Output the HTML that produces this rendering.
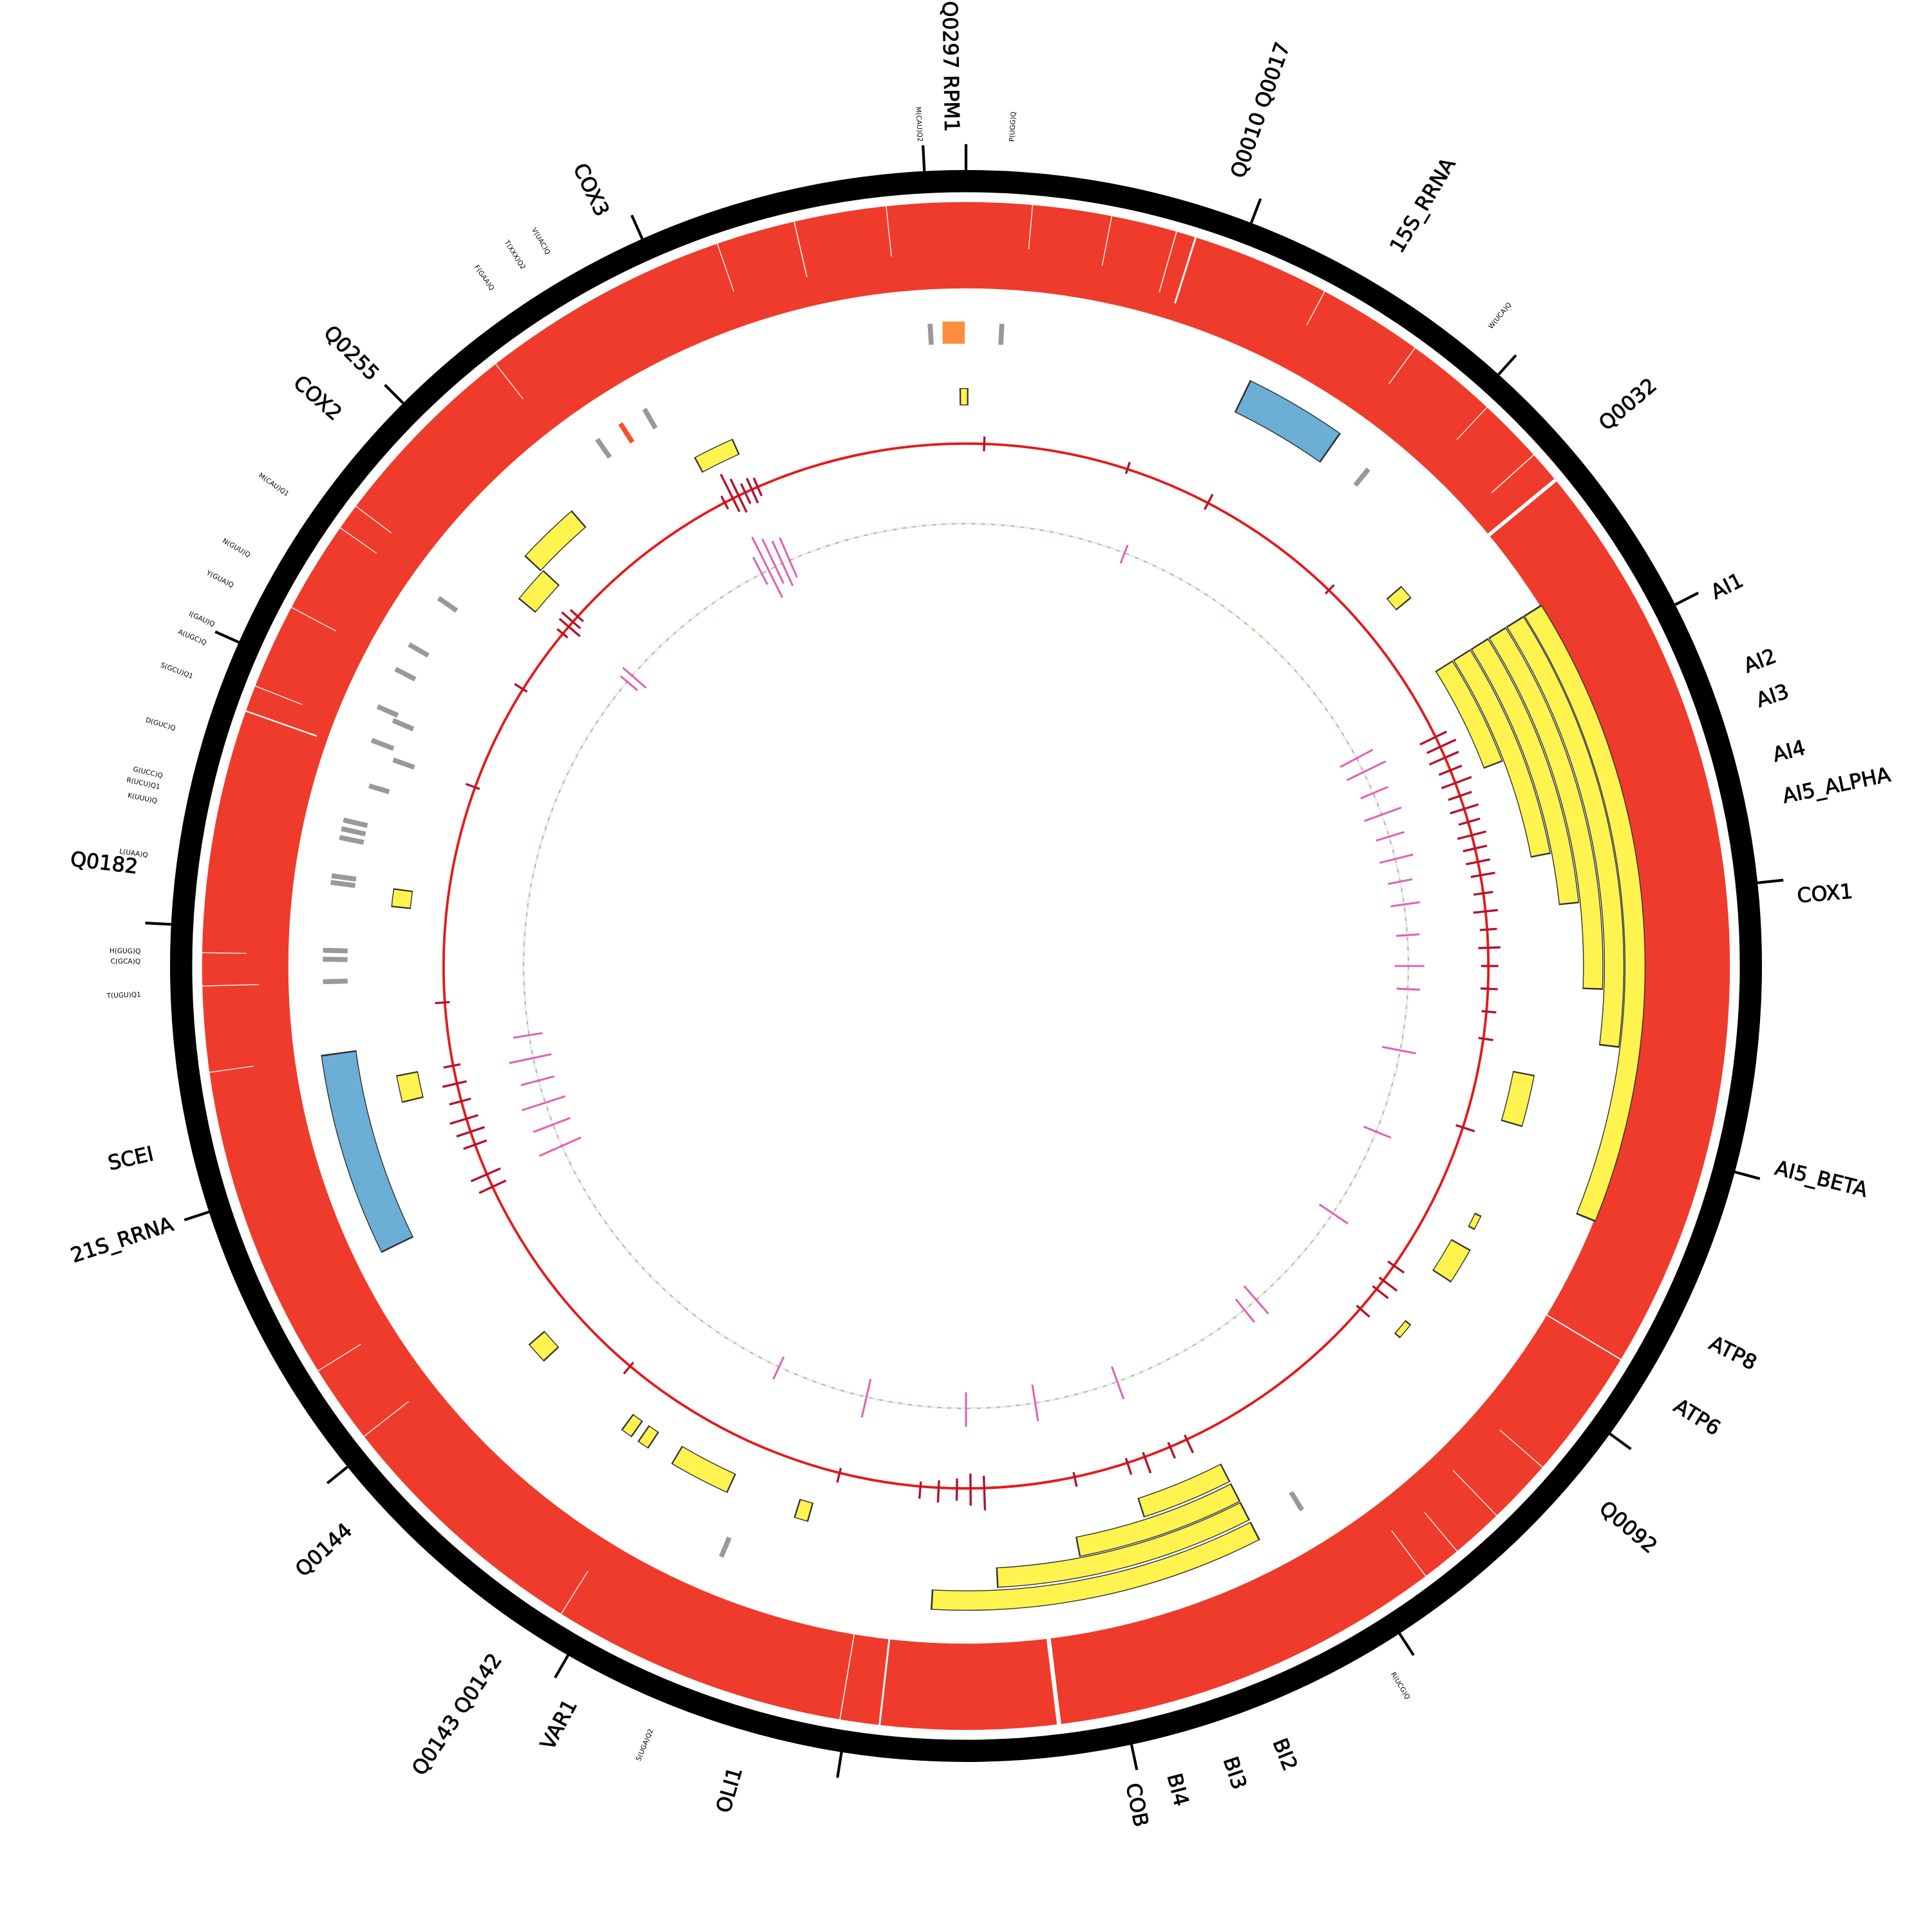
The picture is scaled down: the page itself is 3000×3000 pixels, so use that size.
<!DOCTYPE html>
<html><head><meta charset="utf-8"><style>
html,body{margin:0;padding:0;background:#fff;}
svg{display:block;}
text{font-family:"DejaVu Sans","Liberation Sans",sans-serif;fill:#000;}
.L{font-size:16.5px;dominant-baseline:central;stroke:#000;stroke-width:0.45;}
.s{font-size:5.5px;dominant-baseline:central;}
</style></head><body>
<svg xmlns="http://www.w3.org/2000/svg" width="3000" height="3000" viewBox="0 0 1568 1568">
<rect width="1568" height="1568" fill="#fff"/>
<circle cx="784" cy="784" r="637" fill="none" stroke="#000" stroke-width="18"/>
<g stroke="#000" stroke-width="2.2">
<line x1="784" y1="138" x2="784" y2="117" transform="rotate(0 784 784)"/>
<line x1="784" y1="138" x2="784" y2="117" transform="rotate(21 784 784)"/>
<line x1="784" y1="138" x2="784" y2="117" transform="rotate(42 784 784)"/>
<line x1="784" y1="138" x2="784" y2="117" transform="rotate(63 784 784)"/>
<line x1="784" y1="138" x2="784" y2="117" transform="rotate(84 784 784)"/>
<line x1="784" y1="138" x2="784" y2="117" transform="rotate(105 784 784)"/>
<line x1="784" y1="138" x2="784" y2="117" transform="rotate(126 784 784)"/>
<line x1="784" y1="138" x2="784" y2="117" transform="rotate(147 784 784)"/>
<line x1="784" y1="138" x2="784" y2="117" transform="rotate(168 784 784)"/>
<line x1="784" y1="138" x2="784" y2="117" transform="rotate(189 784 784)"/>
<line x1="784" y1="138" x2="784" y2="117" transform="rotate(210 784 784)"/>
<line x1="784" y1="138" x2="784" y2="117" transform="rotate(231 784 784)"/>
<line x1="784" y1="138" x2="784" y2="117" transform="rotate(252 784 784)"/>
<line x1="784" y1="138" x2="784" y2="117" transform="rotate(273 784 784)"/>
<line x1="784" y1="138" x2="784" y2="117" transform="rotate(294 784 784)"/>
<line x1="784" y1="138" x2="784" y2="117" transform="rotate(315 784 784)"/>
<line x1="784" y1="138" x2="784" y2="117" transform="rotate(336 784 784)"/>
<line x1="784" y1="138" x2="784" y2="117" transform="rotate(357 784 784)"/>
</g>
<circle cx="784" cy="784" r="585" fill="none" stroke="#ef3b2c" stroke-width="70"/>
<g stroke="#fff">
<line x1="784" y1="164" x2="784" y2="234" stroke-width="3.5" transform="rotate(173 784 784)"/>
<line x1="784" y1="164" x2="784" y2="234" stroke-width="1.5" transform="rotate(186.5 784 784)"/>
<line x1="784" y1="164" x2="784" y2="234" stroke-width="0.8" transform="rotate(189.5 784 784)"/>
<line x1="784" y1="164" x2="784" y2="234" stroke-width="3" transform="rotate(50.5 784 784)"/>
<line x1="784" y1="164" x2="784" y2="210" stroke-width="0.8" transform="rotate(48 784 784)"/>
<line x1="784" y1="164" x2="784" y2="215" stroke-width="0.8" transform="rotate(16 784 784)"/>
<line x1="784" y1="164" x2="784" y2="220" stroke-width="1.5" transform="rotate(17.5 784 784)"/>
<line x1="784" y1="164" x2="784" y2="205" stroke-width="0.7" transform="rotate(11 784 784)"/>
<line x1="784" y1="164" x2="784" y2="200" stroke-width="0.7" transform="rotate(5 784 784)"/>
<line x1="784" y1="164" x2="784" y2="205" stroke-width="0.7" transform="rotate(-6 784 784)"/>
<line x1="784" y1="164" x2="784" y2="210" stroke-width="0.8" transform="rotate(-13 784 784)"/>
<line x1="784" y1="164" x2="784" y2="195" stroke-width="0.7" transform="rotate(28 784 784)"/>
<line x1="784" y1="164" x2="784" y2="200" stroke-width="0.7" transform="rotate(36 784 784)"/>
<line x1="784" y1="164" x2="784" y2="200" stroke-width="0.7" transform="rotate(43 784 784)"/>
<line x1="784" y1="164" x2="784" y2="234" stroke-width="1" transform="rotate(121 784 784)"/>
<line x1="784" y1="164" x2="784" y2="210" stroke-width="0.7" transform="rotate(131 784 784)"/>
<line x1="784" y1="164" x2="784" y2="215" stroke-width="0.7" transform="rotate(136 784 784)"/>
<line x1="784" y1="164" x2="784" y2="205" stroke-width="0.7" transform="rotate(140 784 784)"/>
<line x1="784" y1="164" x2="784" y2="210" stroke-width="0.7" transform="rotate(143 784 784)"/>
<line x1="784" y1="164" x2="784" y2="205" stroke-width="0.7" transform="rotate(212 784 784)"/>
<line x1="784" y1="164" x2="784" y2="210" stroke-width="0.7" transform="rotate(232 784 784)"/>
<line x1="784" y1="164" x2="784" y2="205" stroke-width="0.7" transform="rotate(238 784 784)"/>
<line x1="784" y1="164" x2="784" y2="200" stroke-width="0.7" transform="rotate(262 784 784)"/>
<line x1="784" y1="164" x2="784" y2="210" stroke-width="0.7" transform="rotate(268.5 784 784)"/>
<line x1="784" y1="164" x2="784" y2="200" stroke-width="0.7" transform="rotate(271 784 784)"/>
<line x1="784" y1="164" x2="784" y2="225" stroke-width="1.2" transform="rotate(289.5 784 784)"/>
<line x1="784" y1="164" x2="784" y2="205" stroke-width="0.7" transform="rotate(291.5 784 784)"/>
<line x1="784" y1="164" x2="784" y2="205" stroke-width="0.7" transform="rotate(298 784 784)"/>
<line x1="784" y1="164" x2="784" y2="200" stroke-width="0.7" transform="rotate(305 784 784)"/>
<line x1="784" y1="164" x2="784" y2="200" stroke-width="0.7" transform="rotate(307 784 784)"/>
<line x1="784" y1="164" x2="784" y2="200" stroke-width="0.7" transform="rotate(322 784 784)"/>
<line x1="784" y1="164" x2="784" y2="205" stroke-width="0.7" transform="rotate(341 784 784)"/>
</g>
<g fill="none">
<circle cx="784" cy="784" r="543" pathLength="360" stroke="#333" stroke-width="17" stroke-dasharray="54.3 400" transform="rotate(-32.15 784 784)"/>
<circle cx="784" cy="784" r="543" pathLength="360" stroke="#fff350" stroke-width="15.5" stroke-dasharray="54 400" transform="rotate(-32 784 784)"/>
<circle cx="784" cy="784" r="526" pathLength="360" stroke="#333" stroke-width="16.5" stroke-dasharray="39.3 400" transform="rotate(-32.15 784 784)"/>
<circle cx="784" cy="784" r="526" pathLength="360" stroke="#fff350" stroke-width="15" stroke-dasharray="39 400" transform="rotate(-32 784 784)"/>
<circle cx="784" cy="784" r="509" pathLength="360" stroke="#333" stroke-width="16.5" stroke-dasharray="34.3 400" transform="rotate(-32.15 784 784)"/>
<circle cx="784" cy="784" r="509" pathLength="360" stroke="#fff350" stroke-width="15" stroke-dasharray="34 400" transform="rotate(-32 784 784)"/>
<circle cx="784" cy="784" r="492" pathLength="360" stroke="#333" stroke-width="16.5" stroke-dasharray="26.3 400" transform="rotate(-32.15 784 784)"/>
<circle cx="784" cy="784" r="492" pathLength="360" stroke="#fff350" stroke-width="15" stroke-dasharray="26 400" transform="rotate(-32 784 784)"/>
<circle cx="784" cy="784" r="475" pathLength="360" stroke="#333" stroke-width="16.5" stroke-dasharray="21.3 400" transform="rotate(-32.15 784 784)"/>
<circle cx="784" cy="784" r="475" pathLength="360" stroke="#fff350" stroke-width="15" stroke-dasharray="21 400" transform="rotate(-32 784 784)"/>
<circle cx="784" cy="784" r="458" pathLength="360" stroke="#333" stroke-width="16.5" stroke-dasharray="11.3 400" transform="rotate(-32.15 784 784)"/>
<circle cx="784" cy="784" r="458" pathLength="360" stroke="#fff350" stroke-width="15" stroke-dasharray="11 400" transform="rotate(-32 784 784)"/>
<circle cx="784" cy="784" r="515" pathLength="360" stroke="#333" stroke-width="16.5" stroke-dasharray="30.3 400" transform="rotate(62.85 784 784)"/>
<circle cx="784" cy="784" r="515" pathLength="360" stroke="#fff350" stroke-width="15" stroke-dasharray="30 400" transform="rotate(63 784 784)"/>
<circle cx="784" cy="784" r="497" pathLength="360" stroke="#333" stroke-width="16.5" stroke-dasharray="24.3 400" transform="rotate(62.85 784 784)"/>
<circle cx="784" cy="784" r="497" pathLength="360" stroke="#fff350" stroke-width="15" stroke-dasharray="24 400" transform="rotate(63 784 784)"/>
<circle cx="784" cy="784" r="480" pathLength="360" stroke="#333" stroke-width="16.5" stroke-dasharray="16.3 400" transform="rotate(62.85 784 784)"/>
<circle cx="784" cy="784" r="480" pathLength="360" stroke="#fff350" stroke-width="15" stroke-dasharray="16 400" transform="rotate(63 784 784)"/>
<circle cx="784" cy="784" r="462" pathLength="360" stroke="#333" stroke-width="16.5" stroke-dasharray="9.3 400" transform="rotate(62.85 784 784)"/>
<circle cx="784" cy="784" r="462" pathLength="360" stroke="#fff350" stroke-width="15" stroke-dasharray="9 400" transform="rotate(63 784 784)"/>
<circle cx="784" cy="784" r="514" pathLength="360" stroke="#333" stroke-width="29" stroke-dasharray="9.3 400" transform="rotate(-64.15 784 784)"/>
<circle cx="784" cy="784" r="514" pathLength="360" stroke="#6baed6" stroke-width="27.5" stroke-dasharray="9 400" transform="rotate(-64 784 784)"/>
<circle cx="784" cy="784" r="514" pathLength="360" stroke="#333" stroke-width="29" stroke-dasharray="18.3 400" transform="rotate(153.85 784 784)"/>
<circle cx="784" cy="784" r="514" pathLength="360" stroke="#6baed6" stroke-width="27.5" stroke-dasharray="18 400" transform="rotate(154 784 784)"/>
<g>
<circle cx="784" cy="784" r="461" pathLength="360" stroke="#333" stroke-width="18" stroke-dasharray="5.3 400" transform="rotate(10.85 784 784)"/>
<circle cx="784" cy="784" r="461" pathLength="360" stroke="#fff350" stroke-width="16.5" stroke-dasharray="5 400" transform="rotate(11 784 784)"/>
<circle cx="784" cy="784" r="462" pathLength="360" stroke="#333" stroke-width="6" stroke-dasharray="1.6 400" transform="rotate(25.85 784 784)"/>
<circle cx="784" cy="784" r="462" pathLength="360" stroke="#fff350" stroke-width="4.5" stroke-dasharray="1.3 400" transform="rotate(26 784 784)"/>
<circle cx="784" cy="784" r="461" pathLength="360" stroke="#333" stroke-width="18" stroke-dasharray="3.8 400" transform="rotate(29.35 784 784)"/>
<circle cx="784" cy="784" r="461" pathLength="360" stroke="#fff350" stroke-width="16.5" stroke-dasharray="3.5 400" transform="rotate(29.5 784 784)"/>
<circle cx="784" cy="784" r="461" pathLength="360" stroke="#333" stroke-width="6" stroke-dasharray="1.8 400" transform="rotate(38.85 784 784)"/>
<circle cx="784" cy="784" r="461" pathLength="360" stroke="#fff350" stroke-width="4.5" stroke-dasharray="1.5 400" transform="rotate(39 784 784)"/>
<circle cx="784" cy="784" r="461" pathLength="360" stroke="#333" stroke-width="16" stroke-dasharray="1.6 400" transform="rotate(-41.15 784 784)"/>
<circle cx="784" cy="784" r="461" pathLength="360" stroke="#fff350" stroke-width="14.5" stroke-dasharray="1.3 400" transform="rotate(-41 784 784)"/>
<circle cx="784" cy="784" r="461" pathLength="360" stroke="#333" stroke-width="16" stroke-dasharray="1.5 400" transform="rotate(105.85 784 784)"/>
<circle cx="784" cy="784" r="461" pathLength="360" stroke="#fff350" stroke-width="14.5" stroke-dasharray="1.2 400" transform="rotate(106 784 784)"/>
<circle cx="784" cy="784" r="461" pathLength="360" stroke="#333" stroke-width="17" stroke-dasharray="6.3 400" transform="rotate(114.35 784 784)"/>
<circle cx="784" cy="784" r="461" pathLength="360" stroke="#fff350" stroke-width="15.5" stroke-dasharray="6 400" transform="rotate(114.5 784 784)"/>
<circle cx="784" cy="784" r="461" pathLength="360" stroke="#333" stroke-width="16" stroke-dasharray="1.3 400" transform="rotate(123.35 784 784)"/>
<circle cx="784" cy="784" r="461" pathLength="360" stroke="#fff350" stroke-width="14.5" stroke-dasharray="1 400" transform="rotate(123.5 784 784)"/>
<circle cx="784" cy="784" r="461" pathLength="360" stroke="#333" stroke-width="16" stroke-dasharray="1.3 400" transform="rotate(125.35 784 784)"/>
<circle cx="784" cy="784" r="461" pathLength="360" stroke="#fff350" stroke-width="14.5" stroke-dasharray="1 400" transform="rotate(125.5 784 784)"/>
<circle cx="784" cy="784" r="461" pathLength="360" stroke="#333" stroke-width="17" stroke-dasharray="2.3 400" transform="rotate(136.85 784 784)"/>
<circle cx="784" cy="784" r="461" pathLength="360" stroke="#fff350" stroke-width="15.5" stroke-dasharray="2 400" transform="rotate(137 784 784)"/>
<circle cx="784" cy="784" r="462" pathLength="360" stroke="#333" stroke-width="18" stroke-dasharray="2.8 400" transform="rotate(166.35 784 784)"/>
<circle cx="784" cy="784" r="462" pathLength="360" stroke="#fff350" stroke-width="16.5" stroke-dasharray="2.5 400" transform="rotate(166.5 784 784)"/>
<circle cx="784" cy="784" r="461" pathLength="360" stroke="#333" stroke-width="16" stroke-dasharray="1.9 400" transform="rotate(185.85 784 784)"/>
<circle cx="784" cy="784" r="461" pathLength="360" stroke="#fff350" stroke-width="14.5" stroke-dasharray="1.6 400" transform="rotate(186 784 784)"/>
<circle cx="784" cy="784" r="480" pathLength="360" stroke="#333" stroke-width="18" stroke-dasharray="6.3 400" transform="rotate(222.85 784 784)"/>
<circle cx="784" cy="784" r="480" pathLength="360" stroke="#fff350" stroke-width="16.5" stroke-dasharray="6 400" transform="rotate(223 784 784)"/>
<circle cx="784" cy="784" r="461" pathLength="360" stroke="#333" stroke-width="18" stroke-dasharray="3.8 400" transform="rotate(219.35 784 784)"/>
<circle cx="784" cy="784" r="461" pathLength="360" stroke="#fff350" stroke-width="16.5" stroke-dasharray="3.5 400" transform="rotate(219.5 784 784)"/>
<circle cx="784" cy="784" r="461" pathLength="360" stroke="#333" stroke-width="14" stroke-dasharray="4.3 400" transform="rotate(241.85 784 784)"/>
<circle cx="784" cy="784" r="461" pathLength="360" stroke="#fff350" stroke-width="12.5" stroke-dasharray="4 400" transform="rotate(242 784 784)"/>
<circle cx="784" cy="784" r="462" pathLength="360" stroke="#333" stroke-width="14" stroke-dasharray="0.9 400" transform="rotate(269.35 784 784)"/>
<circle cx="784" cy="784" r="462" pathLength="360" stroke="#fff350" stroke-width="12.5" stroke-dasharray="0.6 400" transform="rotate(269.5 784 784)"/>
</g>
</g>
<rect x="765" y="261" width="18" height="18" fill="#fd8d3c"/>
<g stroke="#999" stroke-width="4">
<line x1="784" y1="262" x2="784" y2="279" transform="rotate(-3.2 784 784)"/>
<line x1="784" y1="262" x2="784" y2="279" transform="rotate(3.2 784 784)"/>
<line x1="784" y1="265" x2="784" y2="282" transform="rotate(39 784 784)"/>
<line x1="784" y1="265" x2="784" y2="282" transform="rotate(148.3 784 784)"/>
<line x1="784" y1="265" x2="784" y2="282" transform="rotate(202.5 784 784)"/>
<line x1="784" y1="262" x2="784" y2="282" transform="rotate(268.6 784 784)"/>
<line x1="784" y1="262" x2="784" y2="282" transform="rotate(270.6 784 784)"/>
<line x1="784" y1="262" x2="784" y2="282" transform="rotate(271.4 784 784)"/>
<line x1="784" y1="264" x2="784" y2="284" transform="rotate(277.5 784 784)"/>
<line x1="784" y1="264" x2="784" y2="284" transform="rotate(278.1 784 784)"/>
<line x1="784" y1="265" x2="784" y2="285" transform="rotate(281.6 784 784)"/>
<line x1="784" y1="265" x2="784" y2="285" transform="rotate(282.4 784 784)"/>
<line x1="784" y1="265" x2="784" y2="285" transform="rotate(283.2 784 784)"/>
<line x1="784" y1="278" x2="784" y2="295" transform="rotate(286.8 784 784)"/>
<line x1="784" y1="290" x2="784" y2="308" transform="rotate(289.8 784 784)"/>
<line x1="784" y1="268" x2="784" y2="287" transform="rotate(290.8 784 784)"/>
<line x1="784" y1="278" x2="784" y2="296" transform="rotate(293.2 784 784)"/>
<line x1="784" y1="262" x2="784" y2="280" transform="rotate(293.8 784 784)"/>
<line x1="784" y1="262" x2="784" y2="280" transform="rotate(297.5 784 784)"/>
<line x1="784" y1="262" x2="784" y2="280" transform="rotate(300 784 784)"/>
<line x1="784" y1="262" x2="784" y2="280" transform="rotate(304.9 784 784)"/>
<line x1="784" y1="262" x2="784" y2="280" transform="rotate(325 784 784)"/>
<line x1="784" y1="262" x2="784" y2="280" transform="rotate(330 784 784)"/>
</g>
<line x1="784" y1="262" x2="784" y2="280" stroke="#fc4e2a" stroke-width="4" transform="rotate(327.5 784 784)"/>
<circle cx="784" cy="784" r="424" fill="none" stroke="#e31a1c" stroke-width="2"/>
<g stroke="#b5142b" stroke-width="1.8">
<line x1="784" y1="338" x2="784" y2="372" transform="rotate(333.5 784 784)"/>
<line x1="784" y1="345" x2="784" y2="375" transform="rotate(334.2 784 784)"/>
<line x1="784" y1="352" x2="784" y2="370" transform="rotate(335 784 784)"/>
<line x1="784" y1="350" x2="784" y2="372" transform="rotate(335.8 784 784)"/>
<line x1="784" y1="352" x2="784" y2="368" transform="rotate(336.5 784 784)"/>
<line x1="784" y1="354" x2="784" y2="366" transform="rotate(332.5 784 784)"/>
<line x1="784" y1="350" x2="784" y2="372" transform="rotate(310.5 784 784)"/>
<line x1="784" y1="348" x2="784" y2="368" transform="rotate(311.2 784 784)"/>
<line x1="784" y1="352" x2="784" y2="366" transform="rotate(312 784 784)"/>
<line x1="784" y1="354" x2="784" y2="365" transform="rotate(309.5 784 784)"/>
<line x1="784" y1="352" x2="784" y2="366" transform="rotate(27.6 784 784)"/>
<line x1="784" y1="354" x2="784" y2="364" transform="rotate(18 784 784)"/>
<line x1="784" y1="354" x2="784" y2="366" transform="rotate(2 784 784)"/>
<line x1="784" y1="354" x2="784" y2="364" transform="rotate(44 784 784)"/>
<line x1="784" y1="350" x2="784" y2="374" transform="rotate(64 784 784)"/>
<line x1="784" y1="346" x2="784" y2="372" transform="rotate(65.2 784 784)"/>
<line x1="784" y1="348" x2="784" y2="374" transform="rotate(66.5 784 784)"/>
<line x1="784" y1="350" x2="784" y2="370" transform="rotate(68 784 784)"/>
<line x1="784" y1="346" x2="784" y2="372" transform="rotate(69.5 784 784)"/>
<line x1="784" y1="350" x2="784" y2="370" transform="rotate(71 784 784)"/>
<line x1="784" y1="348" x2="784" y2="372" transform="rotate(72.5 784 784)"/>
<line x1="784" y1="350" x2="784" y2="368" transform="rotate(74 784 784)"/>
<line x1="784" y1="348" x2="784" y2="372" transform="rotate(75.5 784 784)"/>
<line x1="784" y1="350" x2="784" y2="370" transform="rotate(77 784 784)"/>
<line x1="784" y1="350" x2="784" y2="370" transform="rotate(78.5 784 784)"/>
<line x1="784" y1="348" x2="784" y2="368" transform="rotate(80 784 784)"/>
<line x1="784" y1="352" x2="784" y2="368" transform="rotate(82 784 784)"/>
<line x1="784" y1="350" x2="784" y2="370" transform="rotate(84 784 784)"/>
<line x1="784" y1="352" x2="784" y2="366" transform="rotate(86 784 784)"/>
<line x1="784" y1="350" x2="784" y2="368" transform="rotate(88 784 784)"/>
<line x1="784" y1="352" x2="784" y2="366" transform="rotate(90 784 784)"/>
<line x1="784" y1="352" x2="784" y2="366" transform="rotate(92.5 784 784)"/>
<line x1="784" y1="352" x2="784" y2="364" transform="rotate(95 784 784)"/>
<line x1="784" y1="352" x2="784" y2="364" transform="rotate(98 784 784)"/>
<line x1="784" y1="350" x2="784" y2="366" transform="rotate(108 784 784)"/>
<line x1="784" y1="350" x2="784" y2="366" transform="rotate(125 784 784)"/>
<line x1="784" y1="346" x2="784" y2="364" transform="rotate(127 784 784)"/>
<line x1="784" y1="348" x2="784" y2="364" transform="rotate(128.2 784 784)"/>
<line x1="784" y1="350" x2="784" y2="364" transform="rotate(131 784 784)"/>
<line x1="784" y1="348" x2="784" y2="364" transform="rotate(155 784 784)"/>
<line x1="784" y1="350" x2="784" y2="364" transform="rotate(157 784 784)"/>
<line x1="784" y1="346" x2="784" y2="364" transform="rotate(160 784 784)"/>
<line x1="784" y1="350" x2="784" y2="364" transform="rotate(162 784 784)"/>
<line x1="784" y1="352" x2="784" y2="364" transform="rotate(168 784 784)"/>
<line x1="784" y1="342" x2="784" y2="370" transform="rotate(178 784 784)"/>
<line x1="784" y1="346" x2="784" y2="372" transform="rotate(179.5 784 784)"/>
<line x1="784" y1="350" x2="784" y2="368" transform="rotate(181 784 784)"/>
<line x1="784" y1="348" x2="784" y2="366" transform="rotate(183 784 784)"/>
<line x1="784" y1="350" x2="784" y2="364" transform="rotate(185 784 784)"/>
<line x1="784" y1="352" x2="784" y2="364" transform="rotate(194 784 784)"/>
<line x1="784" y1="352" x2="784" y2="364" transform="rotate(220 784 784)"/>
<line x1="784" y1="348" x2="784" y2="372" transform="rotate(245 784 784)"/>
<line x1="784" y1="346" x2="784" y2="372" transform="rotate(246.5 784 784)"/>
<line x1="784" y1="350" x2="784" y2="370" transform="rotate(250 784 784)"/>
<line x1="784" y1="348" x2="784" y2="372" transform="rotate(251.5 784 784)"/>
<line x1="784" y1="346" x2="784" y2="370" transform="rotate(253 784 784)"/>
<line x1="784" y1="350" x2="784" y2="368" transform="rotate(255 784 784)"/>
<line x1="784" y1="348" x2="784" y2="368" transform="rotate(257 784 784)"/>
<line x1="784" y1="352" x2="784" y2="366" transform="rotate(259 784 784)"/>
<line x1="784" y1="352" x2="784" y2="364" transform="rotate(266 784 784)"/>
<line x1="784" y1="352" x2="784" y2="364" transform="rotate(290 784 784)"/>
<line x1="784" y1="352" x2="784" y2="364" transform="rotate(302 784 784)"/>
</g>
<circle cx="784" cy="784" r="359" fill="none" stroke="#e5f5e0" stroke-width="2"/>
<circle cx="784" cy="784" r="359" fill="none" stroke="#de77ae" stroke-width="0.7" stroke-dasharray="3 5"/>
<g stroke="#de63b5" stroke-width="1.6">
<line x1="784" y1="395" x2="784" y2="450" transform="rotate(333.5 784 784)"/>
<line x1="784" y1="400" x2="784" y2="440" transform="rotate(334.5 784 784)"/>
<line x1="784" y1="405" x2="784" y2="445" transform="rotate(335.5 784 784)"/>
<line x1="784" y1="410" x2="784" y2="435" transform="rotate(332.5 784 784)"/>
<line x1="784" y1="405" x2="784" y2="440" transform="rotate(336.5 784 784)"/>
<line x1="784" y1="415" x2="784" y2="440" transform="rotate(311 784 784)"/>
<line x1="784" y1="418" x2="784" y2="436" transform="rotate(310 784 784)"/>
<line x1="784" y1="418" x2="784" y2="434" transform="rotate(21 784 784)"/>
<line x1="784" y1="410" x2="784" y2="440" transform="rotate(62 784 784)"/>
<line x1="784" y1="405" x2="784" y2="440" transform="rotate(64 784 784)"/>
<line x1="784" y1="412" x2="784" y2="436" transform="rotate(67 784 784)"/>
<line x1="784" y1="408" x2="784" y2="440" transform="rotate(70 784 784)"/>
<line x1="784" y1="412" x2="784" y2="436" transform="rotate(73 784 784)"/>
<line x1="784" y1="410" x2="784" y2="438" transform="rotate(76 784 784)"/>
<line x1="784" y1="415" x2="784" y2="435" transform="rotate(79 784 784)"/>
<line x1="784" y1="412" x2="784" y2="436" transform="rotate(82 784 784)"/>
<line x1="784" y1="415" x2="784" y2="434" transform="rotate(86 784 784)"/>
<line x1="784" y1="412" x2="784" y2="436" transform="rotate(90 784 784)"/>
<line x1="784" y1="415" x2="784" y2="434" transform="rotate(93 784 784)"/>
<line x1="784" y1="412" x2="784" y2="440" transform="rotate(101 784 784)"/>
<line x1="784" y1="412" x2="784" y2="436" transform="rotate(112 784 784)"/>
<line x1="784" y1="410" x2="784" y2="438" transform="rotate(124 784 784)"/>
<line x1="784" y1="410" x2="784" y2="440" transform="rotate(139 784 784)"/>
<line x1="784" y1="412" x2="784" y2="436" transform="rotate(141 784 784)"/>
<line x1="784" y1="410" x2="784" y2="438" transform="rotate(160 784 784)"/>
<line x1="784" y1="410" x2="784" y2="440" transform="rotate(171 784 784)"/>
<line x1="784" y1="410" x2="784" y2="438" transform="rotate(180 784 784)"/>
<line x1="784" y1="408" x2="784" y2="440" transform="rotate(193 784 784)"/>
<line x1="784" y1="414" x2="784" y2="434" transform="rotate(205 784 784)"/>
<line x1="784" y1="405" x2="784" y2="442" transform="rotate(246 784 784)"/>
<line x1="784" y1="408" x2="784" y2="440" transform="rotate(249 784 784)"/>
<line x1="784" y1="405" x2="784" y2="442" transform="rotate(252 784 784)"/>
<line x1="784" y1="410" x2="784" y2="438" transform="rotate(255 784 784)"/>
<line x1="784" y1="405" x2="784" y2="440" transform="rotate(258 784 784)"/>
<line x1="784" y1="412" x2="784" y2="436" transform="rotate(261 784 784)"/>
</g>
<g>
<text class="L" x="1461" y="784" transform="rotate(-71 784 784)">Q0010 Q0017</text>
<text class="L" x="1461" y="784" transform="rotate(-59 784 784)">15S_RRNA</text>
<text class="L" x="1461" y="784" transform="rotate(-40.3 784 784)">Q0032</text>
<text class="L" x="1461" y="784" transform="rotate(-26.5 784 784)">AI1</text>
<text class="L" x="1461" y="784" transform="rotate(-21 784 784)">AI2</text>
<text class="L" x="1461" y="784" transform="rotate(-18.5 784 784)">AI3</text>
<text class="L" x="1461" y="784" transform="rotate(-14.6 784 784)">AI4</text>
<text class="L" x="1461" y="784" transform="rotate(-11.7 784 784)">AI5_ALPHA</text>
<text class="L" x="1461" y="784" transform="rotate(-4.8 784 784)">COX1</text>
<text class="L" x="1461" y="784" transform="rotate(14 784 784)">AI5_BETA</text>
<text class="L" x="1461" y="784" transform="rotate(26.8 784 784)">ATP8</text>
<text class="L" x="1461" y="784" transform="rotate(31.7 784 784)">ATP6</text>
<text class="L" x="1461" y="784" transform="rotate(40.3 784 784)">Q0092</text>
<text class="L" x="1461" y="784" transform="rotate(68 784 784)">BI2</text>
<text class="L" x="1461" y="784" transform="rotate(71.6 784 784)">BI3</text>
<text class="L" x="1461" y="784" transform="rotate(75.6 784 784)">BI4</text>
<text class="L" x="1461" y="784" transform="rotate(78.5 784 784)">COB</text>
<text class="L" x="107" y="784" text-anchor="end" transform="rotate(89 784 784)">Q0297 RPM1</text>
<text class="L" x="107" y="784" text-anchor="end" transform="rotate(286 784 784)">OLI1</text>
<text class="L" x="107" y="784" text-anchor="end" transform="rotate(298.2 784 784)">VAR1</text>
<text class="L" x="107" y="784" text-anchor="end" transform="rotate(304.2 784 784)">Q0143 Q0142</text>
<text class="L" x="107" y="784" text-anchor="end" transform="rotate(317.7 784 784)">Q0144</text>
<text class="L" x="107" y="784" text-anchor="end" transform="rotate(342 784 784)">21S_RRNA</text>
<text class="L" x="107" y="784" text-anchor="end" transform="rotate(347 784 784)">SCEI</text>
<text class="L" x="107" y="784" text-anchor="end" transform="rotate(366.8 784 784)">Q0182</text>
<text class="L" x="107" y="784" text-anchor="end" transform="rotate(401.2 784 784)">COX2</text>
<text class="L" x="107" y="784" text-anchor="end" transform="rotate(404.9 784 784)">Q0255</text>
<text class="L" x="107" y="784" text-anchor="end" transform="rotate(424.2 784 784)">COX3</text>
</g>
<g>
<text class="s" x="114" y="784" text-anchor="end" transform="rotate(86.8 784 784)">M(CAU)Q2</text>
<text class="s" x="1454" y="784" transform="rotate(-86.8 784 784)">P(UGG)Q</text>
<text class="s" x="1454" y="784" transform="rotate(-50.6 784 784)">W(UCA)Q</text>
<text class="s" x="1454" y="784" transform="rotate(58.9 784 784)">R(UCG)Q</text>
<text class="s" x="114" y="784" text-anchor="end" transform="rotate(292.4 784 784)">S(UGA)Q2</text>
<text class="s" x="114" y="784" text-anchor="end" transform="rotate(394.8 784 784)">M(CAU)Q1</text>
<text class="s" x="114" y="784" text-anchor="end" transform="rotate(389.8 784 784)">N(GUU)Q</text>
<text class="s" x="114" y="784" text-anchor="end" transform="rotate(387.4 784 784)">Y(GUA)Q</text>
<text class="s" x="114" y="784" text-anchor="end" transform="rotate(384.4 784 784)">I(GAU)Q</text>
<text class="s" x="114" y="784" text-anchor="end" transform="rotate(383 784 784)">A(UGC)Q</text>
<text class="s" x="114" y="784" text-anchor="end" transform="rotate(380.5 784 784)">S(GCU)Q1</text>
<text class="s" x="114" y="784" text-anchor="end" transform="rotate(376.7 784 784)">D(GUC)Q</text>
<text class="s" x="114" y="784" text-anchor="end" transform="rotate(373.3 784 784)">G(UCC)Q</text>
<text class="s" x="114" y="784" text-anchor="end" transform="rotate(372.5 784 784)">R(UCU)Q1</text>
<text class="s" x="114" y="784" text-anchor="end" transform="rotate(371.5 784 784)">K(UUU)Q</text>
<text class="s" x="114" y="784" text-anchor="end" transform="rotate(367.7 784 784)">L(UAA)Q</text>
<text class="s" x="114" y="784" text-anchor="end" transform="rotate(361 784 784)">H(GUG)Q</text>
<text class="s" x="114" y="784" text-anchor="end" transform="rotate(360.3 784 784)">C(GCA)Q</text>
<text class="s" x="114" y="784" text-anchor="end" transform="rotate(358 784 784)">T(UGU)Q1</text>
<text class="s" x="114" y="784" text-anchor="end" transform="rotate(415 784 784)">F(GAA)Q</text>
<text class="s" x="114" y="784" text-anchor="end" transform="rotate(417.6 784 784)">T(XXX)Q2</text>
<text class="s" x="114" y="784" text-anchor="end" transform="rotate(419.6 784 784)">V(UAC)Q</text>
</g>
</svg>
</body></html>
